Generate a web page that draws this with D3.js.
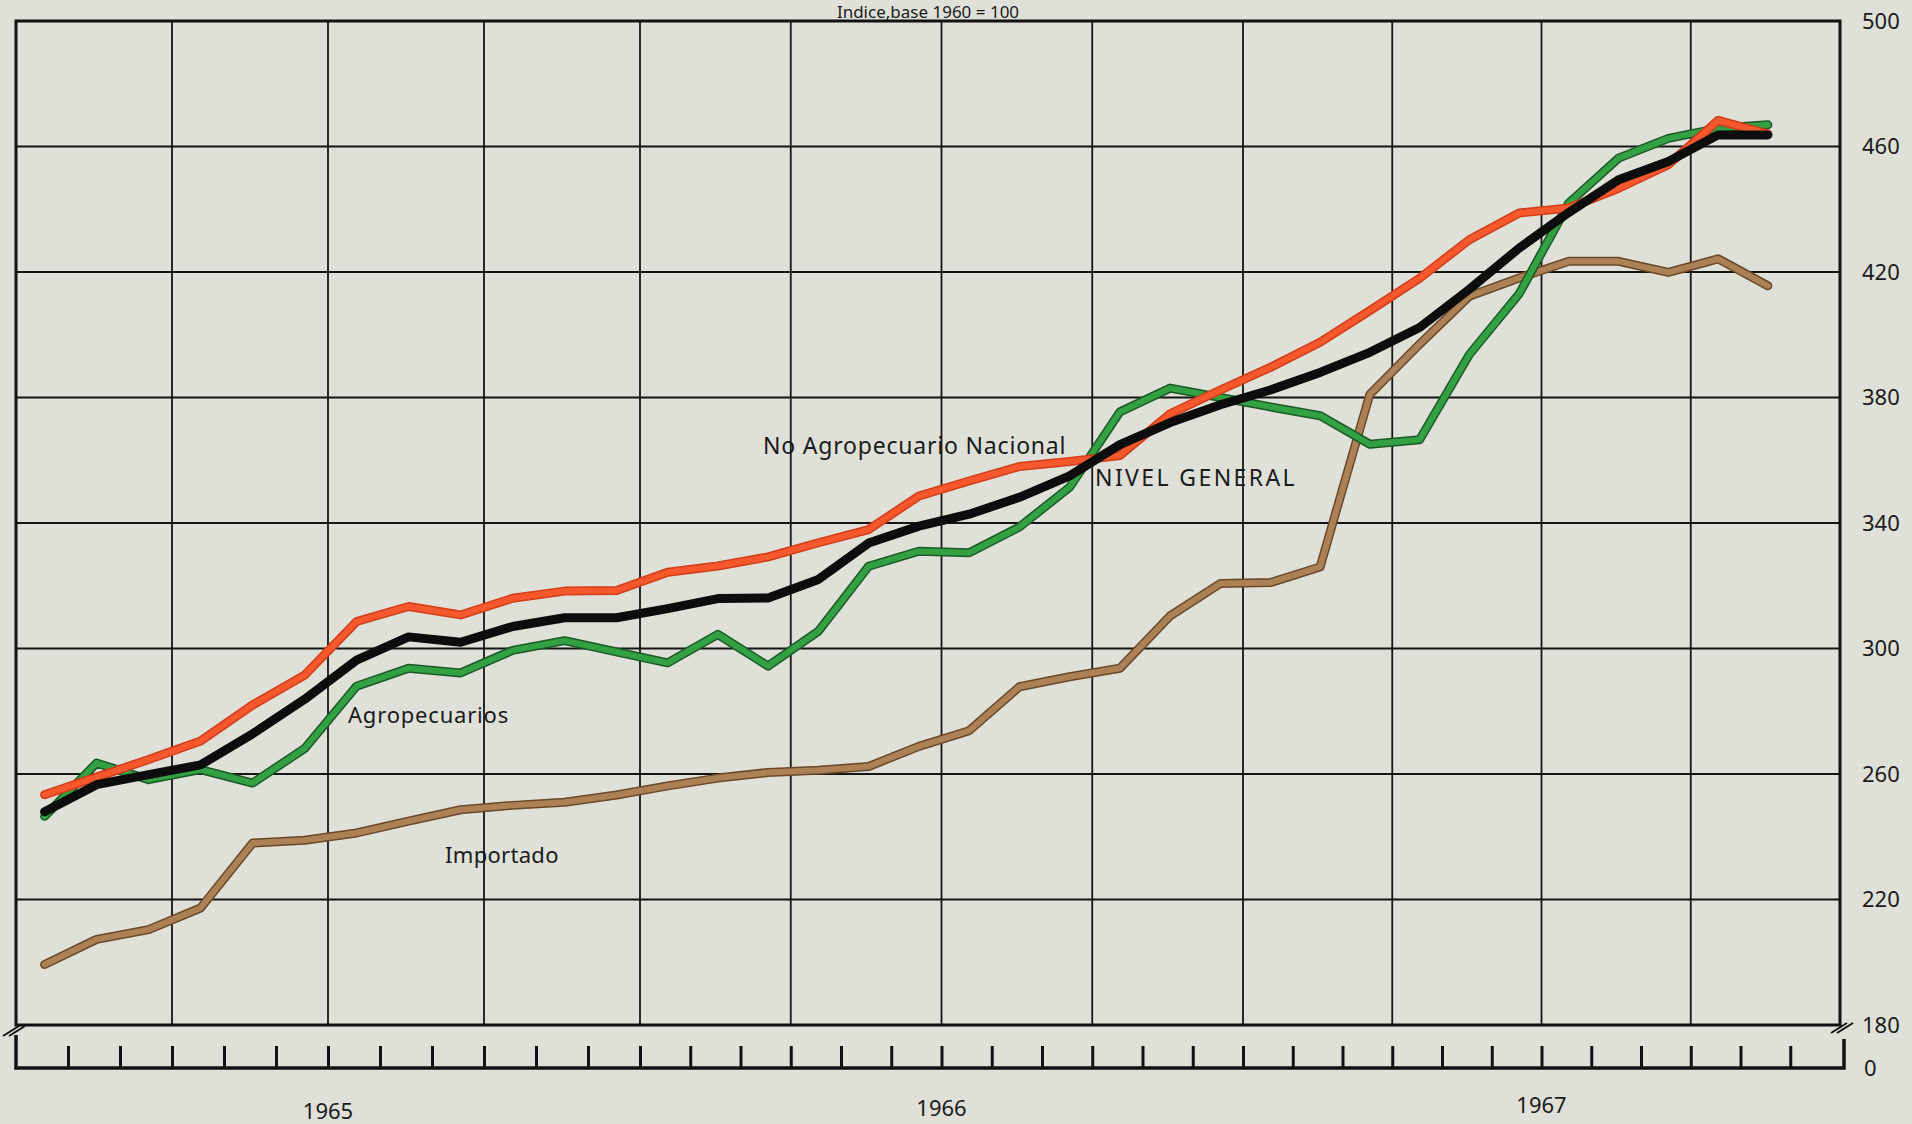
<!DOCTYPE html>
<html><head><meta charset="utf-8">
<script src="https://cdn.jsdelivr.net/npm/d3@7"></script>
<style>
html,body{margin:0;padding:0;background:#dfe1d9;}
svg{display:block;}
text{font-family:"Noto Sans","DejaVu Sans",sans-serif;fill:#1a1a1a;}
</style></head>
<body>
<script>
// ---- data (monthly, Jan 1965 – Nov 1967) ----
const months = d3.range(35);
const nivelGeneral = [248,256.6,259.8,262.9,272.8,283.8,296.3,303.7,302,307,309.8,309.8,312.7,315.9,316.1,322,333.6,339,342.8,348.2,355,365,372,377.7,382.4,388,394.4,402.3,414.5,427.6,439,449.4,455.2,463.7,463.7];
const noAgropecuario = [253.4,259,264.6,270.5,282,291.5,308.6,313.4,310.7,316,318.3,318.5,324.3,326.3,329.2,333.7,337.9,348.6,353.4,358,359.6,361.5,374.8,382.4,389.6,397.6,407.7,418,430.3,438.8,440.4,446.7,454.2,468.3,464];
const agropecuarios = [246.5,263.5,258.2,261.4,257.1,268.1,288,293.7,292.2,299.4,302.5,298.9,295.4,304.5,294.4,305.5,326.2,331,330.5,338.7,351.4,375.4,383,380,377,374.2,365.1,366.5,393.7,413,442,456.3,462.6,465.8,466.9];
const importado = [199.3,207.3,210.4,217.3,238,238.9,241.2,245,248.6,250,251,253.3,256.2,258.7,260.5,261.2,262.4,268.8,273.8,287.8,291,293.7,310.4,320.7,321,326,381,397,412.3,418.1,423.4,423.4,419.9,424.2,415.6];
const yTicks = [180,220,260,300,340,380,420,460,500];
const years = ["1965","1966","1967"];
const title = "Indice,base 1960 = 100";

const W = 1912, H = 1124;
const pL = 16, pR = 1840, pT = 21, pB = 1025, axisBase = 1068;

const svg = d3.select("body").append("svg").attr("width", W).attr("height", H);
// month axis: one stop per year boundary (year widths differ slightly in the original sheet)
const x = d3.scaleLinear().domain([0, 12, 24, 36]).range([pL, 640, 1243, pR]);
const y = d3.scaleLinear().domain([180, 500]).range([pB, pT]);

// title
svg.append("text").attr("x", 928).attr("y", 18).attr("text-anchor", "middle")
  .attr("font-size", 17).text(title);

// grid
const grid = svg.append("g").attr("stroke", "#151515").attr("stroke-width", 1.8);
yTicks.filter(v => v > 180 && v < 500).forEach(v => {
  grid.append("line").attr("x1", pL).attr("x2", pR).attr("y1", y(v)).attr("y2", y(v));
});
d3.range(3, 36, 3).forEach(m => {
  grid.append("line").attr("x1", x(m)).attr("x2", x(m)).attr("y1", pT).attr("y2", pB);
});
// frame
svg.append("rect").attr("x", pL).attr("y", pT).attr("width", pR - pL).attr("height", pB - pT)
  .attr("fill", "none").attr("stroke", "#111").attr("stroke-width", 3);

// right axis labels
const yAxis = d3.axisRight(y).tickValues(yTicks).tickSize(0).tickPadding(22);
const ya = svg.append("g").attr("transform", `translate(${pR},0)`).call(yAxis);
ya.select(".domain").remove();
ya.selectAll("text").attr("font-size", 22).attr("fill", "#1a1a1a")
  .style("font-family", '"Noto Sans","DejaVu Sans",sans-serif');
svg.append("text").attr("x", pR + 24).attr("y", axisBase).attr("dy", "0.35em")
  .attr("font-size", 22).text("0");

// bottom month strip
const xAxis = d3.axisTop(x).tickValues(d3.range(1, 36)).tickSize(22).tickFormat("");
const xa = svg.append("g").attr("transform", `translate(0,${axisBase})`).call(xAxis);
xa.select(".domain").remove();
xa.selectAll("line").attr("stroke", "#111").attr("stroke-width", 3);
svg.append("path")
  .attr("d", `M${pL},${pB + 10}V${axisBase}H${pR + 4}V${pB + 14}`)
  .attr("fill", "none").attr("stroke", "#111").attr("stroke-width", 3.5);
// break marks
[[pL - 2, pB + 6], [pR + 2, pB + 3]].forEach(([bx, by]) => {
  [-3, 3].forEach(o => {
    svg.append("line").attr("x1", bx - 8 + o).attr("y1", by + 5).attr("x2", bx + 8 + o).attr("y2", by - 5)
      .attr("stroke", "#111").attr("stroke-width", 2);
  });
});
svg.selectAll(".yearlbl").data(years).enter().append("text")
  .attr("x", (d, i) => x(6 + 12 * i)).attr("y", (d, i) => 1119 - i * 3)
  .attr("text-anchor", "middle").attr("font-size", 22).text(d => d);

// line labels with paper-coloured backing (gridline gaps)
const labels = [
  {t: "No Agropecuario Nacional", x: 763, y: 454, fs: 23, ls: 0.8},
  {t: "NIVEL GENERAL", x: 1095, y: 486, fs: 23, ls: 2.4},
  {t: "Agropecuarios", x: 348, y: 723, fs: 22, ls: 0.8},
  {t: "Importado", x: 445, y: 863, fs: 22, ls: 0.3}
];
labels.forEach(l => {
  const t = svg.append("text").attr("x", l.x).attr("y", l.y).attr("font-size", l.fs)
    .attr("letter-spacing", l.ls).text(l.t);
  const b = t.node().getBBox();
  svg.insert("rect", "text").attr("x", b.x - 6).attr("y", b.y - 4).attr("width", b.width + 12)
    .attr("height", b.height + 8).attr("fill", "#dfe1d9");
});

// series
const line = d3.line().x((d, i) => x(months[i] + 0.55)).y(d => y(d));
const series = [
  {v: importado, dark: "#6a4829", light: "#ad8156"},
  {v: agropecuarios, dark: "#1b5a26", light: "#33a044"},
  {v: noAgropecuario, dark: "#d33d1a", light: "#f4582c"},
  {v: nivelGeneral, dark: "#0d0d0d", light: "#0d0d0d"}
];
series.forEach(s => {
  svg.append("path").attr("d", line(s.v)).attr("fill", "none").attr("stroke", s.dark)
    .attr("stroke-width", 9).attr("stroke-linejoin", "round").attr("stroke-linecap", "round");
  svg.append("path").attr("d", line(s.v)).attr("fill", "none").attr("stroke", s.light)
    .attr("stroke-width", 6).attr("stroke-linejoin", "round").attr("stroke-linecap", "round");
});
</script>
</body></html>
